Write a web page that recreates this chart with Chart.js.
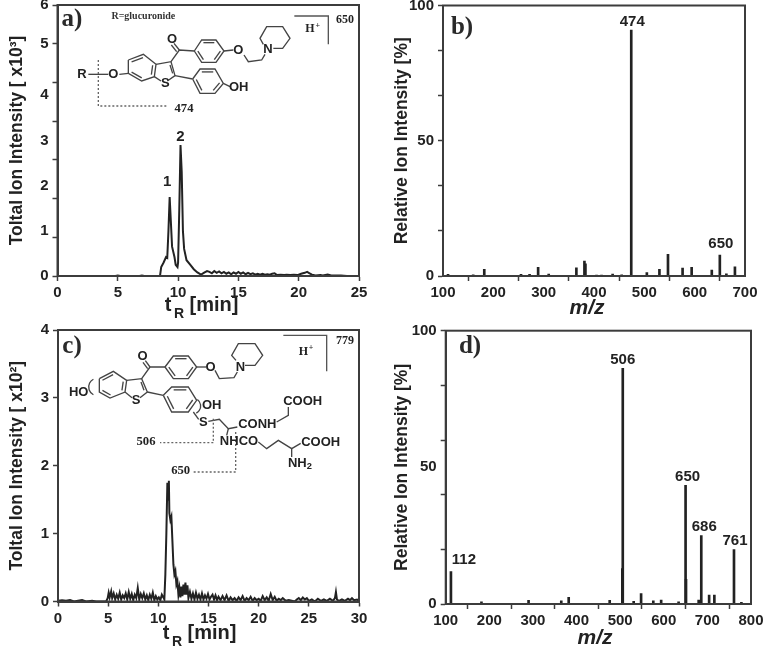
<!DOCTYPE html>
<html>
<head>
<meta charset="utf-8">
<title>Chromatograms and spectra</title>
<script src="https://cdn.jsdelivr.net/npm/chart.js@4"></script>
<style>
  html, body { margin: 0; padding: 0; background: #fff; }
  #page { position: relative; width: 765px; height: 649px; overflow: hidden; }
  canvas { position: absolute; }
</style>
</head>
<body>
<div id="page">
  <canvas id="panelA"></canvas>
  <canvas id="panelB"></canvas>
  <canvas id="panelC"></canvas>
  <canvas id="panelD"></canvas>
</div>
<script>
// panel a) total ion trace, x10^3
const aTime = [0,1,2,2.5,3,4,4.8,5,5.2,6,6.8,7,7.2,8,8.4,8.5,8.6,8.8,9,9.1,9.2,9.3,9.4,9.5,9.7,9.8,9.95,10,10.1,10.2,10.3,10.4,10.5,10.7,11,11.3,11.6,11.9,12.2,12.4,12.6,12.8,13,13.2,13.4,13.6,13.8,14,14.2,14.4,14.6,14.8,15,15.2,15.4,15.6,15.8,16,16.2,16.4,16.6,16.8,17,17.2,17.4,17.6,17.8,18,18.2,18.5,18.8,19,19.3,19.6,19.9,20.2,20.5,20.7,20.9,21.1,21.4,21.8,22,22.4,22.7,23,23.5,24,25];
const aSignal = [0,0,0,0,0,0,0,0.01,0,0,0,0.01,0,0,0,0,0.2,0.3,0.42,0.4,1,1.75,1.2,0.65,0.42,0.25,0.2,0.3,1.5,2.9,2.3,1,0.6,0.35,0.25,0.15,0.08,0.03,0.08,0.11,0.09,0.06,0.11,0.07,0.1,0.06,0.09,0.05,0.08,0.04,0.08,0.05,0.09,0.05,0.08,0.04,0.07,0.04,0.06,0.03,0.05,0.03,0.05,0.03,0.04,0.03,0.05,0.06,0.02,0.03,0.02,0.03,0.02,0.03,0.02,0.05,0.07,0.09,0.06,0.03,0.01,0.02,0.01,0.03,0.01,0.01,0.01,0,0];

// panel b) spectrum
const bMz = [110,160,182,255,272,289,310,365,381,383,405,415,437,455,474,505,530,547,576,594,634,650,663,680];
const bIntensity = [0.6,0.4,2.5,0.6,0.6,3.2,0.7,3,5.5,4.5,0.3,0.3,0.7,0.4,90.9,1.3,2.5,8,2.9,3.2,2.2,7.7,0.8,3.4];
const bPeakLabels = [474,650];

// panel c) total ion trace, x10^2
const cTime = [0,0.4,0.8,1.2,1.6,2,2.4,2.8,3.4,3.8,4.4,4.8,4.95,5.05,5.15,5.3,5.4,5.55,5.7,5.85,6,6.15,6.3,6.45,6.6,6.75,6.9,7.05,7.2,7.35,7.5,7.65,7.8,7.95,8.1,8.25,8.4,8.55,8.7,8.85,9,9.15,9.3,9.45,9.6,9.75,9.9,10.05,10.2,10.35,10.5,10.6,10.7,10.8,10.9,11,11.05,11.1,11.2,11.3,11.4,11.5,11.6,11.7,11.8,11.9,12,12.1,12.2,12.3,12.4,12.5,12.6,12.7,12.8,12.9,13,13.15,13.3,13.45,13.6,13.75,13.9,14.05,14.2,14.35,14.5,14.65,14.8,14.95,15.1,15.25,15.4,15.55,15.7,15.85,16,16.2,16.4,16.6,16.8,17,17.2,17.4,17.6,17.8,18,18.2,18.4,18.6,18.8,19,19.2,19.4,19.6,19.8,20,20.2,20.4,20.6,20.8,21,21.2,21.4,21.6,21.8,22,22.2,22.4,22.7,23,23.3,23.6,23.8,24,24.2,24.4,24.6,24.8,25,25.3,25.6,25.9,26.2,26.5,26.8,27.1,27.4,27.6,27.7,27.8,28,28.3,28.6,28.9,29.1,29.3,29.5,29.8,30];
const cSignal = [0.01,0.02,0.01,0.02,0,0.01,0.02,0,0.01,0,0,0,0.05,0.13,0.06,0.15,0.05,0.12,0.03,0.1,0.04,0.13,0.03,0.09,0.05,0.12,0.03,0.14,0.04,0.11,0.02,0.1,0.05,0.2,0.03,0.11,0.05,0.12,0.03,0.09,0.02,0.1,0.04,0.13,0.02,0.08,0.03,0.06,0.02,0.1,0.06,0.03,0.4,1,1.75,1.5,1.78,1.3,1.2,1.25,0.9,0.55,0.4,0.45,0.25,0.3,0.1,0.2,0.06,0.22,0.08,0.25,0.1,0.28,0.1,0.24,0.05,0.14,0.04,0.12,0.03,0.13,0.04,0.1,0.03,0.12,0.03,0.09,0.04,0.11,0.03,0.07,0.1,0.03,0.09,0.02,0.07,0.02,0.08,0.02,0.09,0.01,0.06,0.02,0.05,0.01,0.06,0.02,0.08,0.01,0.05,0.02,0.07,0.01,0.05,0.02,0.04,0.01,0.08,0.02,0.06,0.01,0.11,0.02,0.07,0.01,0.04,0.02,0.05,0.01,0.02,0.01,0,0.03,0.05,0.02,0.06,0.03,0.05,0.01,0.03,0,0.04,0.01,0.03,0.01,0.04,0.01,0.05,0.14,0.03,0.01,0.03,0.01,0.04,0.02,0.05,0.02,0.03,0.01];

// panel d) spectrum
const dMz = [112,182,290,365,382,437,476,505,506,531,548,576,594,634,650,651,660,680,686,704,716,761,778];
const dIntensity = [11.9,0.8,1.3,1.2,2.4,0.2,1.3,13,86.2,1,3.8,1.2,1.4,0.8,43.4,9,0.2,1.4,25,3.3,3.3,19.9,0.6];
const dPeakLabels = [506,650,686,761,112];

// tick marks and the labels, which on these axes do not always sit on a mark
const aYMarks = [0,0.857,1.714,2.571,3.429,4.286,5.143,6];
const aYLabelValues = [0,1,2,3,4,5.143,6];
const aYLabelTexts = ['0','1','2','3','4','5','6'];
const aXTicks = [0,5,10,15,20,25];
const bYMarks = [0,16.67,33.33,50,66.67,83.33,100];
const bYLabelValues = [0,50,100];
const bXTicks = [100,200,300,400,500,600,700];
const cYTicks = [0,1,2,3,4];
const cXTicks = [0,5,10,15,20,25,30];
const dYMarks = [0,20,40,60,80,100];
const dYLabelValues = [0,50,100];
const dXTicks = [100,200,300,400,500,600,700,800];

const INK = '#222';
const FRAME = '#3c3c3c';
const SANS = '"Liberation Sans", Arial, sans-serif';
const SERIF = '"Liberation Serif", "Times New Roman", serif';

function label(ctx, text, x, y, font, color) {
  ctx.font = font;
  ctx.fillStyle = color || INK;
  ctx.textAlign = 'center';
  ctx.textBaseline = 'middle';
  ctx.fillText(text, x, y);
}

function lines(ctx, paths) {
  paths.forEach(p => {
    ctx.beginPath();
    for (let i = 0; i < p.length; i += 2) {
      if (i === 0) ctx.moveTo(p[0], p[1]); else ctx.lineTo(p[i], p[i + 1]);
    }
    ctx.stroke();
  });
}

// ring with the inner strokes of the double bonds on the given edges
function ring(ctx, pts, doubles) {
  const n = pts.length / 2;
  let cx = 0, cy = 0;
  for (let i = 0; i < n; i++) { cx += pts[2 * i]; cy += pts[2 * i + 1]; }
  cx /= n; cy /= n;
  lines(ctx, [pts.concat([pts[0], pts[1]])]);
  (doubles || []).forEach(e => {
    const j = (e + 1) % n, k = 0.76;
    lines(ctx, [[
      cx + (pts[2 * e] - cx) * k, cy + (pts[2 * e + 1] - cy) * k,
      cx + (pts[2 * j] - cx) * k, cy + (pts[2 * j + 1] - cy) * k
    ]]);
  });
}

function dotted(ctx, path) {
  ctx.save();
  ctx.setLineDash([6, 6]);
  ctx.lineWidth = 4;
  ctx.strokeStyle = '#666';
  lines(ctx, [path]);
  ctx.restore();
}

// structure drawings are traced at 3x, hence the scale
function structureA(ctx) {
  ctx.save();
  ctx.translate(60, 5);
  ctx.scale(1 / 3, 1 / 3);
  ctx.lineWidth = 4;
  ctx.strokeStyle = '#444';
  ring(ctx, [205,165,250,148,288,178,283,215,245,228,205,205], [0,2,4]);
  lines(ctx, [[288,178,333,170,345,212,322,228],[283,215,303,228],[333,170,358,135,403,138],[358,135,342,115],[350,140,334,120],
    [345,212,398,222],[492,138,520,135],[552,150,565,170,605,165,615,148],[490,235,510,245],[205,205,178,208]]);
  lines(ctx, [[330,180,338,205]]);
  ring(ctx, [403,138,425,105,468,105,492,138,468,172,425,172], [1,3,5]);
  ring(ctx, [398,222,420,192,465,192,490,235,465,265,420,265], [1,3,5]);
  lines(ctx, [[610,118,600,100,620,65,668,65,690,100,668,130,640,130]]);
  lines(ctx, [[85,208,145,208]]);
  dotted(ctx, [115,165,115,303,325,303]);
  ctx.strokeStyle = '#555';
  ctx.lineWidth = 4;
  lines(ctx, [[703,33,805,33,805,118]]);
  const f = 'bold 39px ' + SANS;
  label(ctx, 'O', 336, 102, f);
  label(ctx, 'S', 316, 236, f);
  label(ctx, 'O', 160, 208, f);
  label(ctx, 'R', 66, 208, f);
  label(ctx, 'O', 535, 135, f);
  label(ctx, 'N', 624, 134, f);
  label(ctx, 'OH', 536, 248, f);
  const s = 'bold 36px ' + SERIF;
  label(ctx, 'R=glucuronide', 250, 33, 'bold 30px ' + SERIF, '#333');
  label(ctx, '474', 372, 312, 'bold 38px ' + SERIF);
  label(ctx, 'H', 750, 73, s);
  label(ctx, '+', 773, 62, 'bold 24px ' + SERIF);
  label(ctx, '650', 855, 45, s);
  ctx.restore();
}

function structureC(ctx) {
  ctx.save();
  ctx.translate(60, 10);
  ctx.scale(1 / 3, 1 / 3);
  ctx.lineWidth = 4;
  ctx.strokeStyle = '#444';
  ring(ctx, [118,140,160,118,200,145,195,180,150,198,118,180], [0,2,4]);
  lines(ctx, [[200,145,245,140,262,180,240,197],[195,180,216,197],[245,140,270,105,315,105],[270,105,256,86],[263,110,249,91],
    [262,180,310,190],[410,105,438,105],[465,115,478,140,522,137,532,120]]);
  lines(ctx, [[243,150,252,175]]);
  ring(ctx, [315,105,340,72,385,72,410,105,385,140,340,140], [1,3,5]);
  ring(ctx, [310,190,335,165,385,165,410,205,385,240,335,240], [1,3,5]);
  lines(ctx, [[528,85,515,70,535,35,585,35,608,70,585,100,555,100]]);
  lines(ctx, [[400,240,416,262],[445,268,478,262,505,290,532,285],[505,290,500,310],[650,270,685,250,685,225],
    [595,330,620,350,655,325,695,350,722,334],[695,350,695,375]]);
  // brackets round the ring positions
  ctx.beginPath(); ctx.arc(112, 165, 26, Math.PI * 0.65, Math.PI * 1.35); ctx.stroke();
  ctx.beginPath(); ctx.arc(398, 222, 24, -Math.PI * 0.3, Math.PI * 0.35); ctx.stroke();
  dotted(ctx, [460,260,460,332,300,332]);
  dotted(ctx, [527,300,527,420,400,420]);
  ctx.strokeStyle = '#555';
  ctx.lineWidth = 4;
  lines(ctx, [[670,10,800,10,800,118]]);
  const f = 'bold 39px ' + SANS;
  label(ctx, 'O', 248, 72, f);
  label(ctx, 'S', 228, 206, f);
  label(ctx, 'HO', 56, 180, f);
  label(ctx, 'O', 452, 105, f);
  label(ctx, 'N', 541, 107, f);
  label(ctx, 'OH', 455, 220, f);
  label(ctx, 'S', 430, 270, f);
  label(ctx, 'CONH', 592, 278, f);
  label(ctx, 'NHCO', 537, 327, f);
  label(ctx, 'COOH', 728, 207, f);
  label(ctx, 'COOH', 782, 332, f);
  label(ctx, 'NH', 712, 395, f);
  label(ctx, '2', 748, 404, 'bold 28px ' + SANS);
  const s = 'bold 36px ' + SERIF;
  label(ctx, '506', 258, 330, 'bold 38px ' + SERIF);
  label(ctx, '650', 362, 417, 'bold 38px ' + SERIF);
  label(ctx, 'H', 730, 60, s);
  label(ctx, '+', 753, 48, 'bold 24px ' + SERIF);
  label(ctx, '779', 855, 27, s);
  ctx.restore();
}

function timeTitle(ctx, x, y) {
  label(ctx, 't', x - 32, y, 'bold 20px ' + SANS);
  label(ctx, 'R', x - 21, y + 9, 'bold 14px ' + SANS);
  label(ctx, '[min]', x + 14, y, 'bold 20px ' + SANS);
}

function massTitle(ctx, x, y) {
  label(ctx, 'm/z', x, y, 'italic bold 21px ' + SANS);
}

// frame, panel letter, peak labels and any extra drawing
const panelExtras = {
  id: 'panelExtras',
  afterDatasetsDraw(chart, args, o) {
    const ctx = chart.ctx, area = chart.chartArea;
    ctx.save();
    ctx.strokeStyle = FRAME;
    ctx.lineWidth = 2;
    ctx.strokeRect(area.left, area.top, area.width, area.height);
    label(ctx, o.letter, o.letterX, o.letterY, 'bold 25px ' + SERIF, '#2a2a2a');
    (o.peaks || []).forEach(p => {
      const px = chart.scales.x.getPixelForValue(p.x) + (p.dx || 0);
      const py = chart.scales.y.getPixelForValue(p.y) - (p.dy || 8);
      label(ctx, p.text, px, py, 'bold 15px ' + SANS);
    });
    if (o.draw) o.draw(ctx);
    ctx.restore();
  }
};

function pairs(xs, ys) {
  return xs.map((x, i) => ({ x: x, y: ys[i] }));
}

function makePanel(id, p) {
  const el = document.getElementById(id);
  el.width = p.width;
  el.height = p.height;
  el.style.left = p.pageX + 'px';
  el.style.top = p.pageY + 'px';
  const tickFont = { family: SANS, size: 15, weight: 'bold' };
  const yTicks = Array.from(new Set(p.yMarks.concat(p.yLabelValues))).sort((a, b) => a - b);
  return new Chart(el.getContext('2d'), {
    type: p.type,
    data: {
      datasets: [{
        data: pairs(p.xs, p.ys),
        borderColor: INK,
        backgroundColor: INK,
        borderWidth: p.type === 'line' ? p.lineWidth : 0,
        barThickness: 2,
        pointRadius: 0,
        tension: 0
      }]
    },
    options: {
      responsive: false,
      animation: false,
      events: [],
      layout: { padding: { top: p.top, right: p.width - p.right, left: 0, bottom: 0 } },
      plugins: {
        legend: { display: false },
        tooltip: { enabled: false },
        panelExtras: { letter: p.letter, letterX: p.letterX, letterY: p.letterY, peaks: p.peaks, draw: p.draw }
      },
      scales: {
        x: {
          type: 'linear',
          offset: false,
          min: p.xTicks[0],
          max: p.xTicks[p.xTicks.length - 1],
          afterBuildTicks: s => { s.ticks = p.xTicks.map(v => ({ value: v })); },
          afterFit: s => { s.height = p.height - p.bottom; s.paddingLeft = 0; s.paddingRight = 0; },
          grid: { drawOnChartArea: false, tickLength: 5, tickColor: FRAME, tickWidth: 1.5 },
          border: { color: FRAME, width: 2 },
          ticks: { color: INK, font: tickFont, maxRotation: 0, autoSkip: false, padding: 3, callback: v => String(v) }
        },
        y: {
          min: 0,
          max: p.yLabelValues[p.yLabelValues.length - 1],
          afterBuildTicks: s => { s.ticks = yTicks.map(v => ({ value: v })); },
          afterFit: s => { s.width = p.left; s.paddingTop = 0; s.paddingBottom = 0; },
          grid: {
            drawOnChartArea: false,
            tickLength: 5,
            tickWidth: 1.5,
            tickColor: c => (c.tick && p.yMarks.includes(c.tick.value)) ? FRAME : 'rgba(0,0,0,0)'
          },
          border: { color: FRAME, width: 2 },
          ticks: {
            color: INK,
            font: tickFont,
            autoSkip: false,
            padding: 4,
            callback: v => {
              const i = p.yLabelValues.indexOf(v);
              return i < 0 ? '' : p.yLabelTexts[i];
            }
          },
          title: {
            display: true,
            text: p.yTitle,
            color: INK,
            font: { family: SANS, size: 17.5, weight: 'bold', lineHeight: 1 },
            padding: { top: p.yTitlePad, bottom: 0 }
          }
        }
      }
    },
    plugins: [panelExtras]
  });
}

makePanel('panelA', {
  type: 'line', lineWidth: 2, pageX: 0, pageY: 0, width: 382, height: 322,
  left: 57.5, right: 359, top: 5, bottom: 276,
  xs: aTime, ys: aSignal, xTicks: aXTicks,
  yMarks: aYMarks, yLabelValues: aYLabelValues, yLabelTexts: aYLabelTexts,
  yTitle: 'Toltal Ion Intensity [ x10³]', yTitlePad: 8,
  letter: 'a)', letterX: 72, letterY: 20,
  peaks: [{ x: 9.1, y: 1.75, dy: 15, text: '1' }, { x: 10.2, y: 2.9, dy: 8, text: '2' }],
  draw: ctx => { structureA(ctx); timeTitle(ctx, 200, 305); }
});

makePanel('panelB', {
  type: 'bar', pageX: 382, pageY: 0, width: 383, height: 322,
  left: 61, right: 363, top: 5.5, bottom: 276,
  xs: bMz, ys: bIntensity, xTicks: bXTicks,
  yMarks: bYMarks, yLabelValues: bYLabelValues, yLabelTexts: bYLabelValues.map(String),
  yTitle: 'Relative Ion Intensity [%]', yTitlePad: 11,
  letter: 'b)', letterX: 80, letterY: 28,
  peaks: bPeakLabels.map(m => ({
    x: m, y: bIntensity[bMz.indexOf(m)], dy: m === 650 ? 11 : 8, dx: 1, text: String(m)
  })),
  draw: ctx => { massTitle(ctx, 205, 308); }
});

makePanel('panelC', {
  type: 'line', lineWidth: 2, pageX: 0, pageY: 322, width: 382, height: 327,
  left: 58, right: 359, top: 8, bottom: 279.5,
  xs: cTime, ys: cSignal, xTicks: cXTicks,
  yMarks: cYTicks, yLabelValues: cYTicks, yLabelTexts: cYTicks.map(String),
  yTitle: 'Toltal Ion Intensity [ x10²]', yTitlePad: 8,
  letter: 'c)', letterX: 72, letterY: 25,
  draw: ctx => { structureC(ctx); timeTitle(ctx, 198, 311); }
});

makePanel('panelD', {
  type: 'bar', pageX: 382, pageY: 322, width: 383, height: 327,
  left: 63.7, right: 369, top: 8.7, bottom: 282,
  xs: dMz, ys: dIntensity, xTicks: dXTicks,
  yMarks: dYMarks, yLabelValues: dYLabelValues, yLabelTexts: dYLabelValues.map(String),
  yTitle: 'Relative Ion Intensity [%]', yTitlePad: 11,
  letter: 'd)', letterX: 88, letterY: 25,
  peaks: dPeakLabels.map(m => ({
    x: m,
    y: dIntensity[dMz.indexOf(m)],
    dy: m === 112 ? 12 : 9,
    dx: m === 112 ? 13 : (m === 650 ? 2 : (m === 686 ? 3 : (m === 761 ? 1 : 0))),
    text: String(m)
  })),
  draw: ctx => { massTitle(ctx, 213, 316); }
});
</script>
</body>
</html>
